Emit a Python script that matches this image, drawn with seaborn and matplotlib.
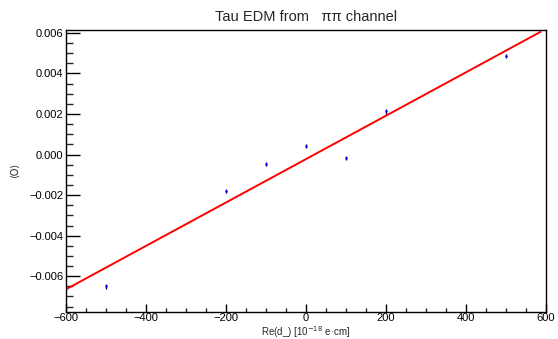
import numpy as np
import matplotlib
matplotlib.use("Agg")
import matplotlib.pyplot as plt
import seaborn as sns
from matplotlib.ticker import MultipleLocator, FuncFormatter

# measured points
edm_x = [-500, -200, -100, 0, 100, 200, 500]
obs_y = [-0.00650, -0.00179, -0.00047, 0.00041, -0.00018, 0.00213, 0.00487]
obs_err = [0.00011, 0.00011, 0.00011, 0.00011, 0.00011, 0.00011, 0.00011]

# fitted straight line (end points)
fit_x = [-600, 587]
fit_y = [-0.00665, 0.00605]

sns.set_theme(style="white")
plt.rcParams['font.family'] = ['Liberation Sans', 'DejaVu Sans']
plt.rcParams['axes.unicode_minus'] = True

fig = plt.figure(figsize=(5.58, 3.39), dpi=100)
ax = fig.add_axes([0.118, 0.08, 0.860, 0.832])

sns.lineplot(x=fit_x, y=fit_y, ax=ax, color="red", linewidth=1.4)
ax.errorbar(edm_x, obs_y, yerr=obs_err, fmt="none", ecolor="#000060", elinewidth=1.0)
sns.scatterplot(x=edm_x, y=obs_y, ax=ax, color="#0000ff", s=3, linewidth=0, zorder=5)

ax.set_xlim(-600, 600)
ax.set_ylim(-0.00776, 0.00615)

ax.xaxis.set_major_locator(MultipleLocator(200))
ax.xaxis.set_minor_locator(MultipleLocator(50))
ax.yaxis.set_major_locator(MultipleLocator(0.002))
ax.yaxis.set_minor_locator(MultipleLocator(0.0005))
ax.yaxis.set_major_formatter(FuncFormatter(lambda v, p: f"{v:.3f}".replace("-", "\u2212") if abs(v) > 1e-9 else "0.000"))
ax.xaxis.set_major_formatter(FuncFormatter(lambda v, p: f"{v:.0f}".replace("-", "\u2212")))

ax.tick_params(axis="y", which="major", direction="in", length=10, width=1, labelsize=8, pad=2, colors="black")
ax.tick_params(axis="y", which="minor", direction="in", length=5, width=1)
ax.tick_params(axis="x", which="major", direction="in", length=6, width=1, labelsize=8, pad=1, colors="black")
ax.tick_params(axis="x", which="minor", direction="in", length=3, width=1)
ax.tick_params(left=True, bottom=True, which="both")

for s in ax.spines.values():
    s.set_color("black")
    s.set_linewidth(1)

ax.set_title("Tau EDM from   ππ channel", fontsize=10.5, pad=6)
ax.set_xlabel("Re(d_) [10$^{-18}$ e·cm]", fontsize=7)
ax.xaxis.set_label_coords(0.5, -0.042)
ax.set_ylabel("⟨O⟩", fontsize=7, family=['DejaVu Sans'])
ax.yaxis.set_label_coords(-0.095, 0.5)

fig.savefig("out.png", dpi=100)
